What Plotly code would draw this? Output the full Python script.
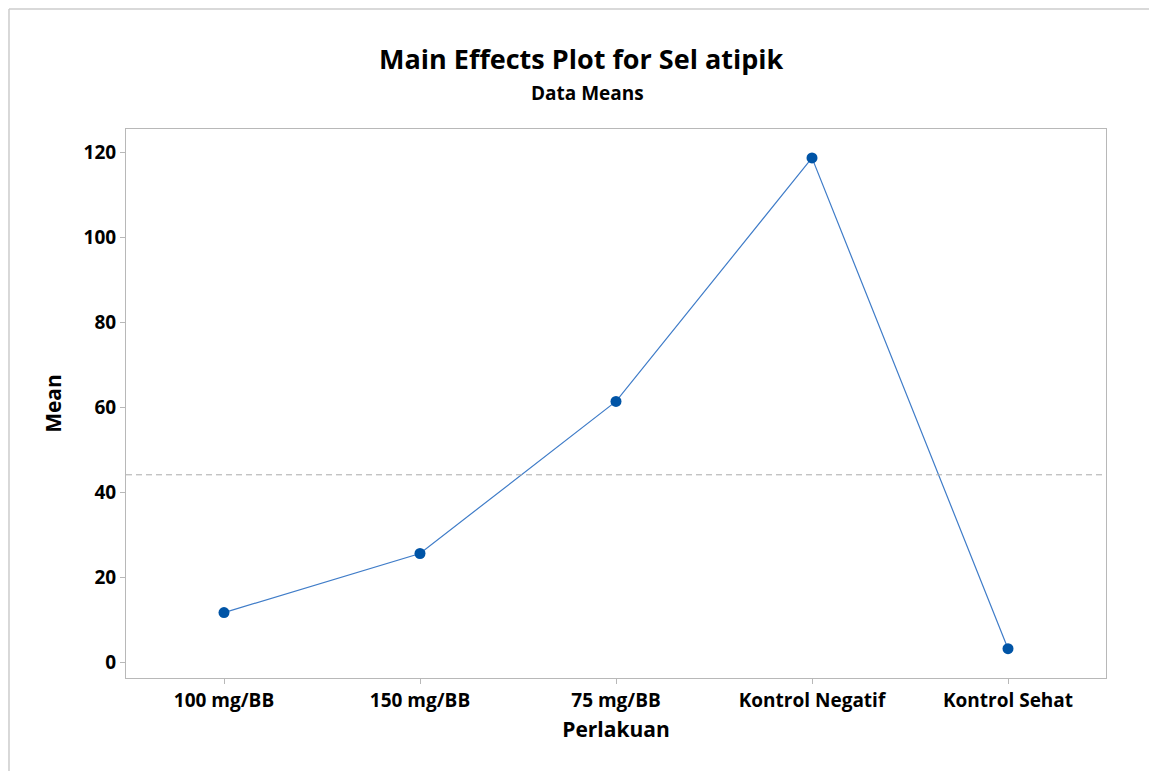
import plotly.graph_objects as go

categories = ["100 mg/BB", "150 mg/BB", "75 mg/BB", "Kontrol Negatif", "Kontrol Sehat"]
means = [11.8, 25.7, 61.5, 118.8, 3.3]
y_ticks = [0, 20, 40, 60, 80, 100, 120]

grand_mean = sum(means) / len(means)
xpos = list(range(len(categories)))

FONT = "Open Sans"

fig = go.Figure()
fig.add_trace(go.Scatter(
    x=xpos, y=means, mode="lines+markers",
    line=dict(color="#3f7cc8", width=1.2),
    marker=dict(color="#0054a6", size=11),
    showlegend=False, hoverinfo="skip",
))

fig.add_shape(type="line", xref="paper", yref="y", x0=0, x1=1, y0=grand_mean, y1=grand_mean,
              line=dict(color="#aaaaaa", width=1, dash="6px,4px"))

# outer frame lines (top and left)
fig.add_shape(type="line", xref="paper", yref="paper", x0=-0.1194, x1=1.08, y0=1.2186, y1=1.2186,
              line=dict(color="#cccccc", width=1.5))
fig.add_shape(type="line", xref="paper", yref="paper", x0=-0.1194, x1=-0.1194, y0=1.2186, y1=-0.2,
              line=dict(color="#cccccc", width=1.5))

fig.add_annotation(text="<b>Main Effects Plot for Sel atipik</b>", xref="paper", yref="paper",
                   x=0.4653, y=1.1293, xanchor="center", yanchor="middle", showarrow=False,
                   font=dict(family=FONT, size=27, color="black"))
fig.add_annotation(text="<b>Data Means</b>", xref="paper", yref="paper",
                   x=0.4714, y=1.0647, xanchor="center", yanchor="middle", showarrow=False,
                   font=dict(family=FONT, size=19, color="black"))

fig.update_layout(
    width=1149, height=763,
    margin=dict(l=118, r=51, t=121, b=93),
    paper_bgcolor="white", plot_bgcolor="white",
    font=dict(family=FONT, color="black"),
    xaxis=dict(
        range=[-0.5, 4.5], tickmode="array", tickvals=xpos,
        ticktext=["<b>%s</b>" % c for c in categories],
        tickfont=dict(size=19), showgrid=False, zeroline=False,
        showline=True, linecolor="#b8b8b8", linewidth=1, mirror=True,
        ticks="outside", ticklen=5, tickcolor="#b8b8b8",
        title=dict(text="<b>Perlakuan</b>", font=dict(size=21), standoff=10),
    ),
    yaxis=dict(
        range=[-3.6, 125.6], tickmode="array", tickvals=y_ticks,
        ticktext=["<b>%d</b>" % v for v in y_ticks],
        tickfont=dict(size=19), showgrid=False, zeroline=False,
        showline=True, linecolor="#b8b8b8", linewidth=1, mirror=True,
        ticks="outside", ticklen=5, tickcolor="#b8b8b8",
        title=dict(text="<b>Mean</b>", font=dict(size=21), standoff=16),
    ),
)

fig.write_html("out.html")
